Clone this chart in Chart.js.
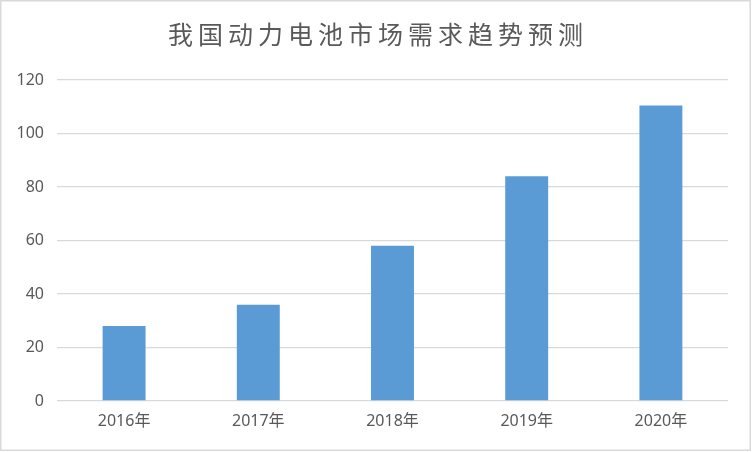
<!DOCTYPE html>
<html>
<head>
<meta charset="utf-8">
<script src="https://cdn.jsdelivr.net/npm/chart.js@4/dist/chart.umd.min.js"></script>
<style>
html,body{margin:0;padding:0;background:#fff;}
#wrap{width:752px;height:452px;}
</style>
</head>
<body>
<div id="wrap"><canvas id="c" width="752" height="452"></canvas></div>
<script>
const titleText = '我国动力电池市场需求趋势预测';
const categories = ['2016年', '2017年', '2018年', '2019年', '2020年'];
const demand = [28, 36, 58, 84, 110.5];
const yMin = 0, yMax = 120, yStep = 20;

const frameAndTitle = {
  id: 'frameAndTitle',
  beforeDraw(chart) {
    const ctx = chart.ctx;
    ctx.save();
    ctx.fillStyle = '#ffffff';
    ctx.fillRect(0, 0, chart.width, chart.height);
    ctx.restore();
  },
  afterDraw(chart) {
    const ctx = chart.ctx;
    ctx.save();
    ctx.strokeStyle = '#D9D9D9';
    ctx.lineWidth = 1.5;
    ctx.strokeRect(0.75, 0.75, 749.5, 449.5);
    ctx.font = '25px "Noto Sans CJK SC"';
    ctx.fillStyle = '#595959';
    ctx.textAlign = 'center';
    ctx.textBaseline = 'middle';
    try { ctx.letterSpacing = '5px'; } catch (e) {}
    ctx.fillText(titleText, 378, 34);
    ctx.restore();
  }
};

new Chart(document.getElementById('c'), {
  type: 'bar',
  data: {
    labels: categories,
    datasets: [{
      data: demand,
      backgroundColor: '#5B9BD5',
      borderWidth: 0,
      barPercentage: 0.32,
      categoryPercentage: 1.0
    }]
  },
  options: {
    responsive: false,
    animation: false,
    devicePixelRatio: 1,
    layout: { padding: { top: 80, right: 24, bottom: 0, left: 0 } },
    plugins: { legend: { display: false }, title: { display: false }, tooltip: { enabled: false } },
    scales: {
      x: {
        grid: { display: false, drawTicks: false },
        border: { display: false },
        ticks: { color: '#595959', font: { family: '"Noto Sans", "Noto Sans CJK SC"', size: 16 }, padding: 11 },
        afterFit(scale) { scale.height = 51; }
      },
      y: {
        min: yMin, max: yMax,
        grid: { color: '#D9D9D9', lineWidth: 1.3, drawTicks: false },
        border: { display: false },
        ticks: { stepSize: yStep, color: '#595959', font: { family: '"Noto Sans", "Noto Sans CJK SC"', size: 16 }, padding: 13 },
        afterFit(scale) { scale.width = 57; }
      }
    }
  },
  plugins: [frameAndTitle]
});
</script>
</body>
</html>
